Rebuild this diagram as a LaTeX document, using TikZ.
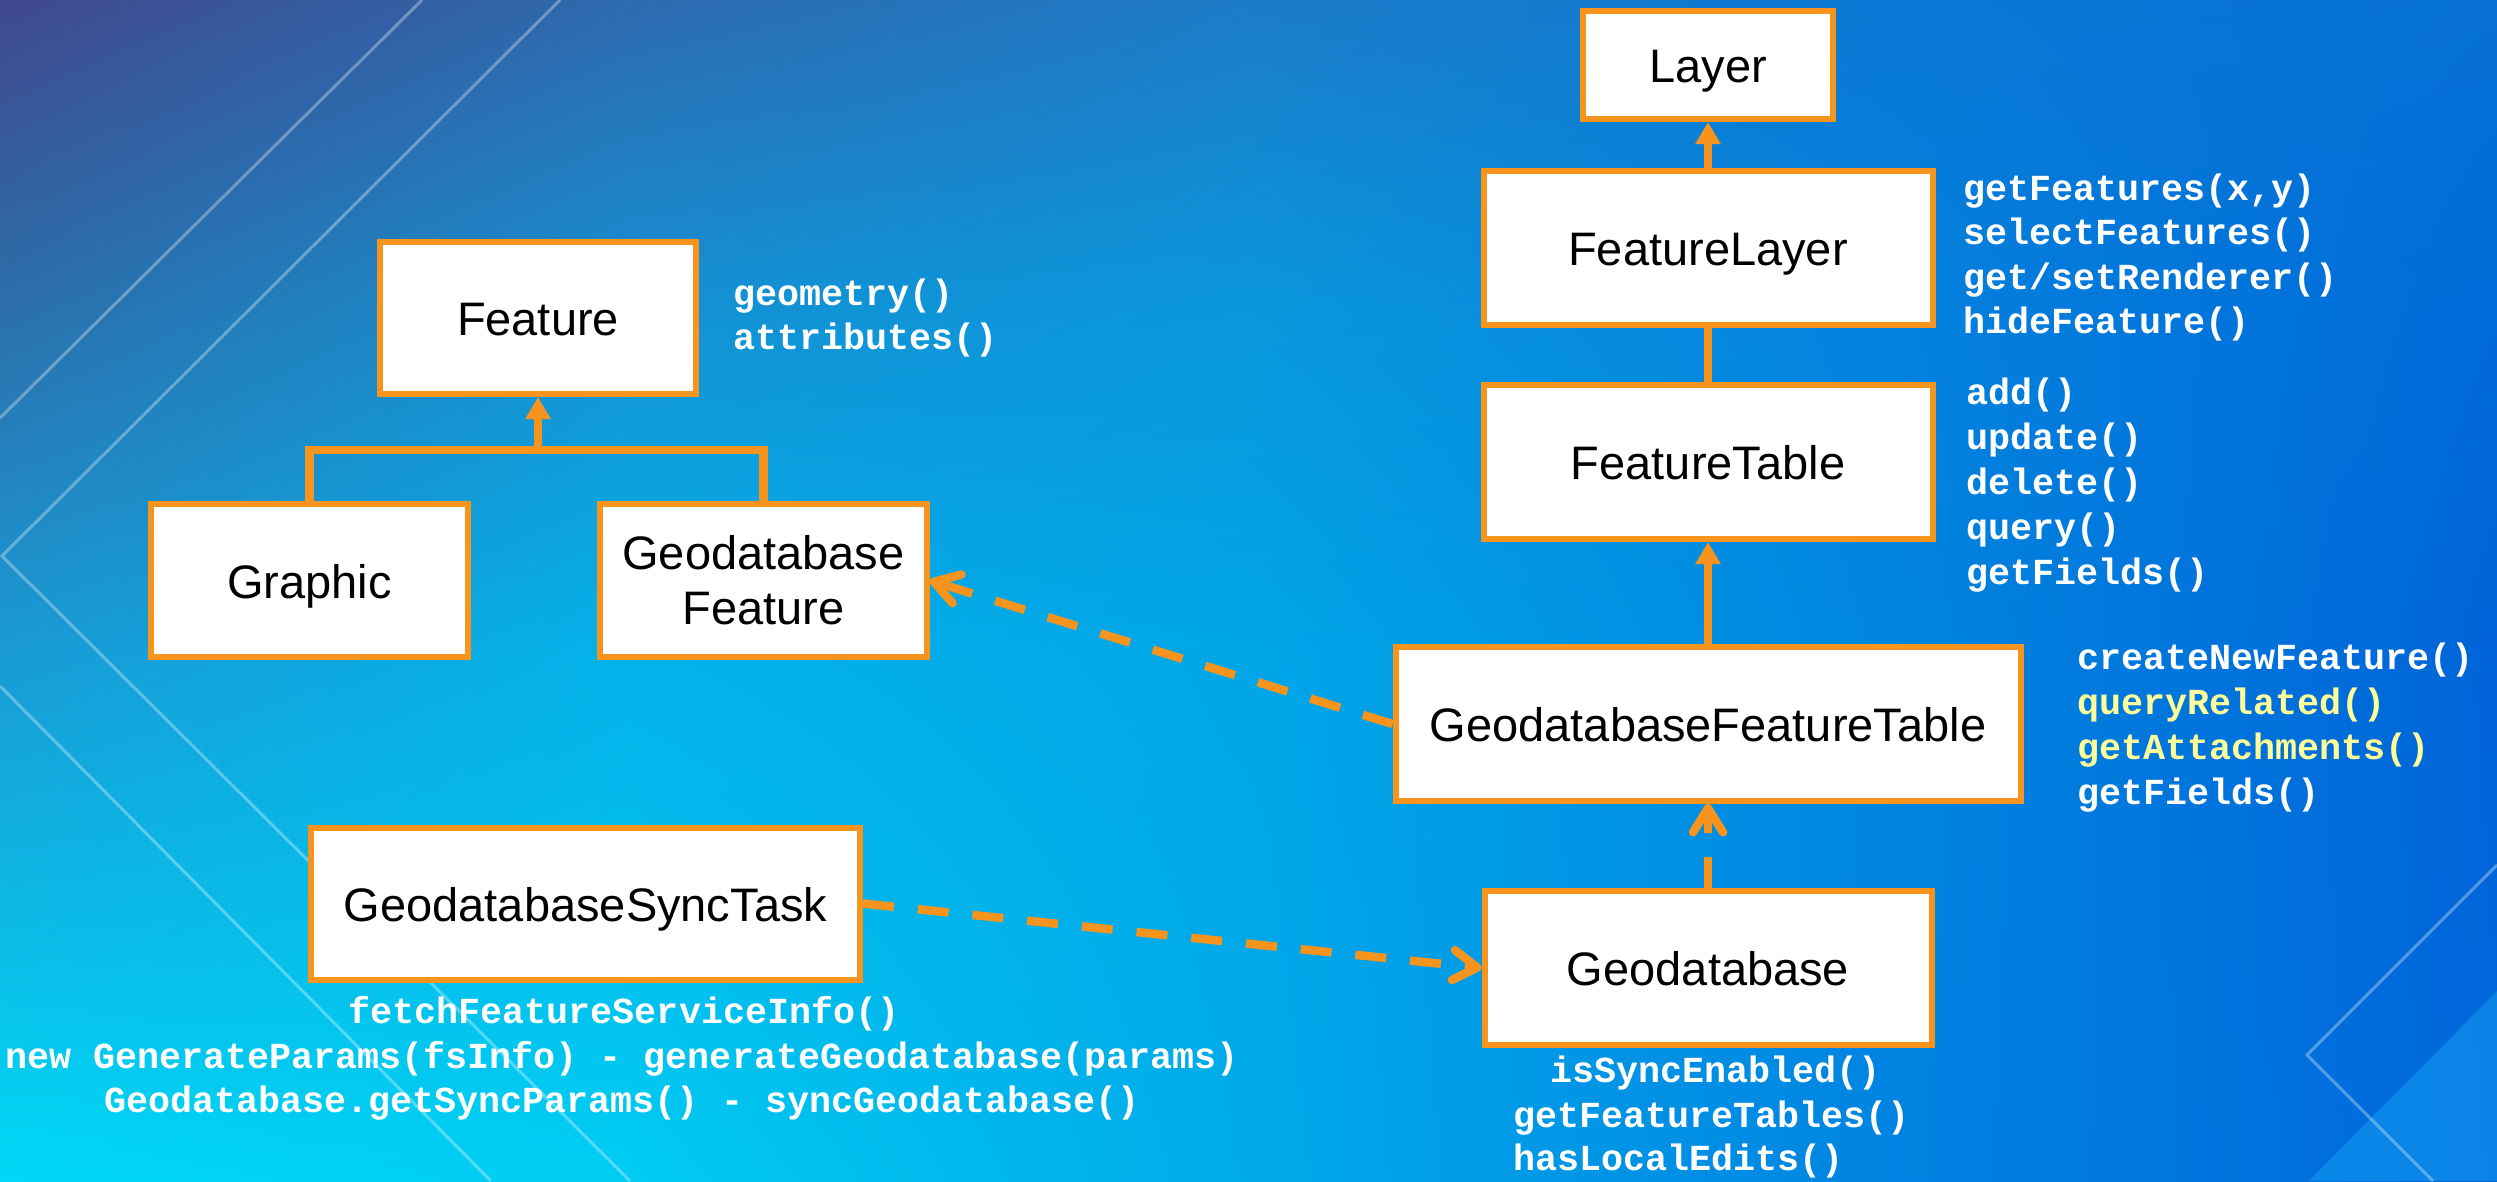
\documentclass[tikz,border=0pt]{standalone}
\usepackage{fontspec}
\setmainfont{Liberation Sans}
\newfontfamily\codefont{Liberation Mono}
\usetikzlibrary{arrows.meta,shadings}

\definecolor{boxorange}{HTML}{F7941E}
\definecolor{codeyellow}{HTML}{FFFF99}
% background grid colours  (g<col><row>)
\definecolor{g00}{HTML}{40488E}\definecolor{g10}{HTML}{2E6AAE}\definecolor{g20}{HTML}{1C7CC8}\definecolor{g30}{HTML}{0A78D4}\definecolor{g40}{HTML}{0670D6}
\definecolor{g01}{HTML}{2C6EAA}\definecolor{g11}{HTML}{1590D2}\definecolor{g21}{HTML}{0A96DC}\definecolor{g31}{HTML}{0482DE}\definecolor{g41}{HTML}{006AD8}
\definecolor{g02}{HTML}{1A9AD4}\definecolor{g12}{HTML}{04B2EA}\definecolor{g22}{HTML}{00A6E8}\definecolor{g32}{HTML}{0086E0}\definecolor{g42}{HTML}{0064D8}
\definecolor{g03}{HTML}{00D8F6}\definecolor{g13}{HTML}{00CCF2}\definecolor{g23}{HTML}{00AAEA}\definecolor{g33}{HTML}{0084E2}\definecolor{g43}{HTML}{0066DA}
\definecolor{tri}{HTML}{18A8F8}

\newcommand{\bgtile}[8]{\shade[upper left=#5, upper right=#6, lower left=#7, lower right=#8] (#1,#2) rectangle (#3,#4);}

\begin{document}
\begin{tikzpicture}[x=1pt,y=-1pt,
  umlbox/.style={draw=boxorange, line width=6pt, fill=white, inner sep=0pt,
    font=\fontsize{47}{55}\selectfont, align=center},
  onel/.style={text height=35pt, text depth=0pt},
  conn/.style={draw=boxorange, line width=8.5pt},
  inherit/.style={conn, -{Triangle[length=22pt,width=24pt]}},
  depend/.style={conn, dash pattern=on 31pt off 24pt, -{Straight Barb[length=24pt,width=30pt,round]}},
  code/.style={text=white, font=\codefont\bfseries\fontsize{36.7}{44}\selectfont, inner sep=0pt, anchor=base west},
  bgline/.style={draw=white, draw opacity=0.32, line width=3pt}
]
\useasboundingbox (0,0) rectangle (2497,1181);

% ---------- background ----------
\bgtile{0}{0}{626}{301}{g00}{g10}{g01}{g11}
\bgtile{625}{0}{1251}{301}{g10}{g20}{g11}{g21}
\bgtile{1250}{0}{1876}{301}{g20}{g30}{g21}{g31}
\bgtile{1875}{0}{2497}{301}{g30}{g40}{g31}{g41}
\bgtile{0}{300}{626}{651}{g01}{g11}{g02}{g12}
\bgtile{625}{300}{1251}{651}{g11}{g21}{g12}{g22}
\bgtile{1250}{300}{1876}{651}{g21}{g31}{g22}{g32}
\bgtile{1875}{300}{2497}{651}{g31}{g41}{g32}{g42}
\bgtile{0}{650}{626}{1181}{g02}{g12}{g03}{g13}
\bgtile{625}{650}{1251}{1181}{g12}{g22}{g13}{g23}
\bgtile{1250}{650}{1876}{1181}{g22}{g32}{g23}{g33}
\bgtile{1875}{650}{2497}{1181}{g32}{g42}{g33}{g43}
\fill[tri, opacity=0.45] (2497,991) -- (2309,1181) -- (2497,1181) -- cycle;
\draw[bgline] (422,0) -- (0,418);
\draw[bgline] (560,0) -- (2,556) -- (630,1181);
\draw[bgline] (0,686) -- (491,1181);
\draw[bgline] (2497,865) -- (2307,1055) -- (2433,1181);

% ---------- boxes ----------
\node[umlbox, onel, minimum width=250pt, minimum height=108pt] (layer) at (1708,65) {Layer};
\node[umlbox, onel, minimum width=449pt, minimum height=154pt] (featurelayer) at (1708,248) {FeatureLayer};
\node[umlbox, onel, minimum width=449pt, minimum height=154pt] (featuretable) at (1708,462) {FeatureTable};
\node[umlbox, onel, minimum width=625pt, minimum height=154pt] (gdft) at (1708,724) {GeodatabaseFeatureTable};
\node[umlbox, onel, minimum width=447pt, minimum height=154pt] (geodatabase) at (1708,968) {Geodatabase};
\node[umlbox, onel, minimum width=316pt, minimum height=152pt] (feature) at (538,318) {Feature};
\node[umlbox, onel, minimum width=317pt, minimum height=153pt] (graphic) at (309.5,580.5) {Graphic};
\node[umlbox, minimum width=327pt, minimum height=153pt] (gdbfeature) at (763.5,580.5) {Geodatabase\\Feature};
\node[umlbox, onel, minimum width=549pt, minimum height=152pt] (gst) at (585.5,903.5) {GeodatabaseSyncTask};

% ---------- connectors ----------
\coordinate (junc) at (538,450);
\draw[conn] (graphic.north) |- (junc) -| (gdbfeature.north);
\draw[inherit] (junc) -- (feature.south);
\draw[inherit] (featurelayer.north) -- (layer.south);
\draw[conn] (featuretable.north) -- (featurelayer.south);
\draw[inherit] (gdft.north) -- (featuretable.south);
\draw[depend] (geodatabase.north) -- (gdft.south);
\draw[depend] (gdft.west) -- (gdbfeature.east);
\draw[depend] (gst.east) -- (geodatabase.west);

% ---------- method lists ----------
\node[code] (fm1) at (733,305) {geometry()};
\node[code] (fm2) at (733,349) {attributes()};

\node[code] (flm1) at (1963,200) {getFeatures(x,y)};
\node[code] (flm2) at (1963,244.5) {selectFeatures()};
\node[code] (flm3) at (1963,289) {get/setRenderer()};
\node[code] (flm4) at (1963,333.5) {hideFeature()};

\node[code] (ftm1) at (1966,404) {add()};
\node[code] (ftm2) at (1966,449) {update()};
\node[code] (ftm3) at (1966,494) {delete()};
\node[code] (ftm4) at (1966,539) {query()};
\node[code] (ftm5) at (1966,584) {getFields()};

\node[code] (gtm1) at (2077,669) {createNewFeature()};
\node[code, text=codeyellow] (gtm2) at (2077,714) {queryRelated()};
\node[code, text=codeyellow] (gtm3) at (2077,759) {getAttachments()};
\node[code] (gtm4) at (2077,804) {getFields()};

\node[code] (gdm1) at (1550,1082) {isSyncEnabled()};
\node[code] (gdm2) at (1513,1127) {getFeatureTables()};
\node[code] (gdm3) at (1513,1170) {hasLocalEdits()};

\node[code, anchor=base] (stm1) at (624,1023) {fetchFeatureServiceInfo()};
\node[code, anchor=base] (stm2) at (622,1068) {new GenerateParams(fsInfo) - generateGeodatabase(params)};
\node[code, anchor=base] (stm3) at (622,1112) {Geodatabase.getSyncParams() - syncGeodatabase()};
\end{tikzpicture}
\end{document}
